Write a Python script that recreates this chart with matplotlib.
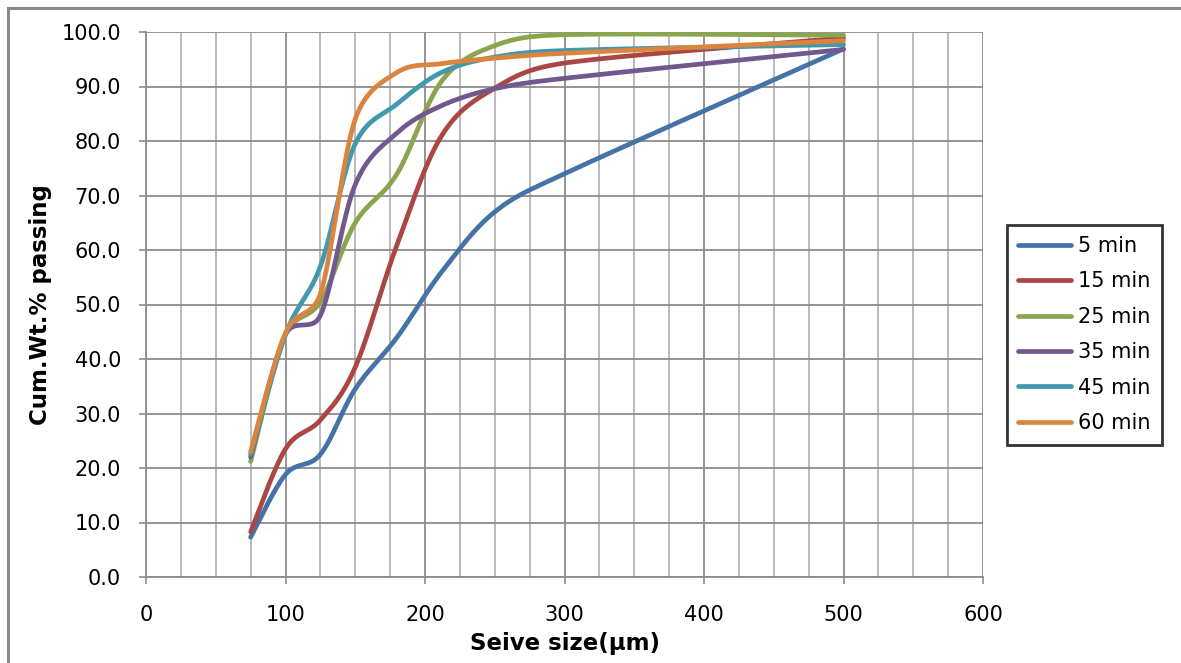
'''
Cumulative weight % passing vs sieve size for different grinding times
'''
import numpy as np
import matplotlib.pyplot as plt
from matplotlib.patches import Rectangle

# sieve sizes (um)
sieve = [75, 100, 125, 150, 180, 212, 250, 300, 500]

# cumulative wt.% passing
t5 = [7.3, 18.8, 22.5, 34.5, 44.0, 56.0, 67.0, 74.0, 96.9]
t15 = [8.3, 23.5, 28.8, 38.5, 61.0, 81.0, 89.7, 94.3, 98.9]
t25 = [21.2, 44.5, 50.5, 65.0, 74.0, 91.0, 97.5, 99.5, 99.4]
t35 = [22.0, 44.5, 48.0, 72.0, 81.5, 86.5, 89.6, 91.5, 96.8]
t45 = [22.5, 44.5, 57.0, 79.5, 86.8, 92.6, 95.4, 96.6, 97.7]
t60 = [23.0, 44.8, 52.0, 84.0, 92.6, 94.2, 95.2, 96.1, 98.4]

labels = ['5 min', '15 min', '25 min', '35 min', '45 min', '60 min']
colors = ['#4572A7', '#AA4643', '#89A54E', '#71588F', '#4198AF', '#DB843D']


def smooth(ax, x, y, n=40):
    '''
    Excel-like smoothed line: Catmull-Rom as cubic Bezier, with the
    handles clamped to half the segment length (on screen)
    '''
    P = ax.transData.transform(np.column_stack([x, y]).astype(float))
    m = len(P)
    t = np.linspace(0, 1, n)[:, None]
    out = []
    for i in range(m - 1):
        a = P[max(i - 1, 0)]
        b = P[min(i + 2, m - 1)]
        Li = np.hypot(*(P[i + 1] - P[i]))
        h1 = (P[i + 1] - a) / 6
        h2 = (b - P[i]) / 6
        for h in (h1, h2):
            n_h = np.hypot(*h)
            if n_h > 0.5 * Li:
                h *= 0.5 * Li / n_h
        c1 = P[i] + h1
        c2 = P[i + 1] - h2
        seg = ((1 - t) ** 3) * P[i] + 3 * ((1 - t) ** 2) * t * c1 \
            + 3 * (1 - t) * t ** 2 * c2 + t ** 3 * P[i + 1]
        out.append(seg)
    out = ax.transData.inverted().transform(np.vstack(out))
    return out[:, 0], out[:, 1]


plt.rcParams['font.family'] = ['DejaVu Sans']

fig = plt.figure(figsize=(11.81, 6.63), dpi=100)
ax = fig.add_axes([146 / 1181, 86 / 663, 837 / 1181, 545 / 663])
ax.set_xlim(0, 600)
ax.set_ylim(0, 100)

# outer chart border (partly cropped)
fig.patches.append(Rectangle((8 / 1181, -0.05), 1.2, 1 - 8 / 663 + 0.05,
                             transform=fig.transFigure, fill=False,
                             edgecolor='#8a8a8a', linewidth=2.2))

for vals, lab, c in zip([t5, t15, t25, t35, t45, t60], labels, colors):
    xs, ys = smooth(ax, sieve, vals)
    ax.plot(xs, ys, color=c, lw=3.4, label=lab, solid_capstyle='round')

ax.set_xticks(np.arange(0, 601, 100))
ax.set_xticks(np.arange(0, 601, 25), minor=True)
ax.set_yticks(np.arange(0, 101, 10))
ax.set_yticklabels(['{:.1f}'.format(v) for v in np.arange(0, 101, 10)])

ax.grid(True, which='major', axis='both', color='#8c8c8c', lw=1.3)
ax.grid(True, which='minor', axis='x', color='#b4b4b4', lw=1.3)
ax.set_axisbelow(True)

for s in ['top', 'right']:
    ax.spines[s].set_visible(False)
for s in ['left', 'bottom']:
    ax.spines[s].set_color('#8c8c8c')
    ax.spines[s].set_linewidth(1.3)

ax.tick_params(axis='both', which='major', length=5, width=1.2,
               color='#8c8c8c', labelsize=15)
ax.tick_params(axis='y', which='major', pad=13)
ax.tick_params(axis='x', which='major', pad=15)
ax.tick_params(axis='x', which='minor', length=0)

ax.set_xlabel('Seive size(µm)', fontsize=16.5, fontweight='bold', labelpad=5)
ax.set_ylabel('Cum.Wt.% passing', fontsize=16.5, fontweight='bold', labelpad=7)

leg = ax.legend(loc='center left', bbox_to_anchor=(1007 / 1181, 1 - 334.5 / 663),
                bbox_transform=fig.transFigure, fontsize=15, frameon=True,
                fancybox=False, handlelength=2.5, handletextpad=0.35,
                labelspacing=0.74, borderpad=0.55, borderaxespad=0)
leg.get_frame().set_edgecolor('black')
leg.get_frame().set_linewidth(2)
for h in leg.get_lines():
    h.set_linewidth(3.4)

plt.savefig('out.png', dpi=100)
